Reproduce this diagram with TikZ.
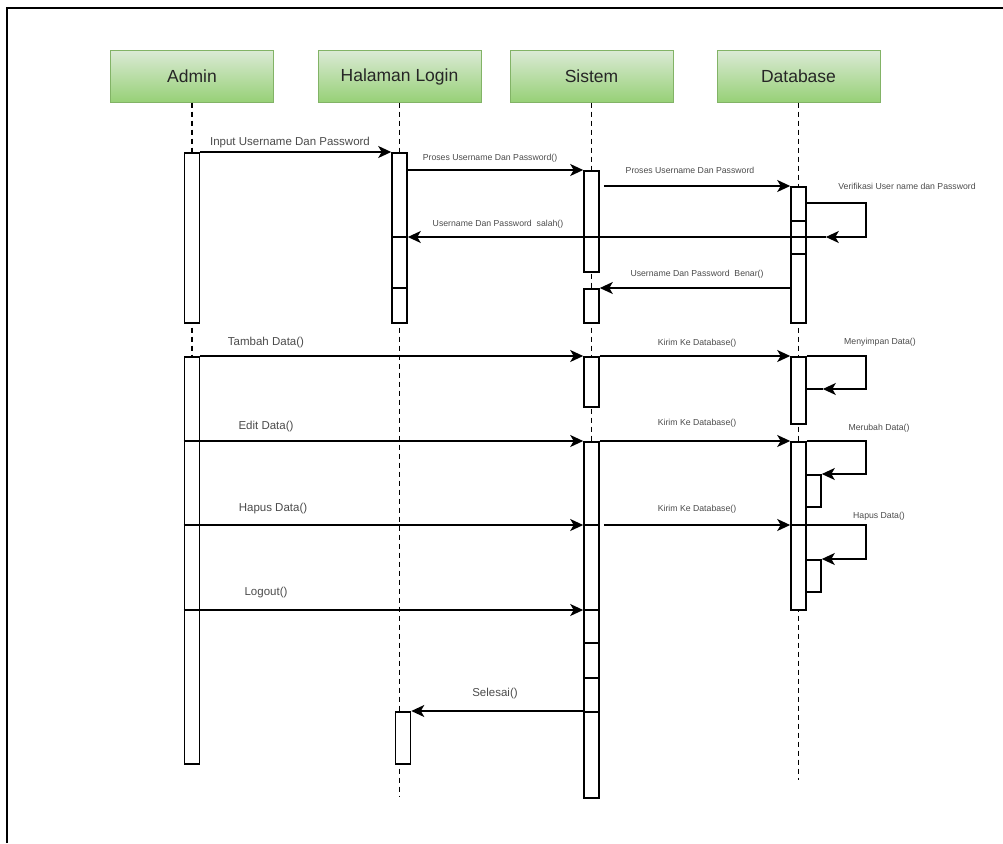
\documentclass[tikz,border=0pt]{standalone}
\usepackage{fontspec}
\setmainfont{Liberation Sans}
\usepackage{tikz}
\usetikzlibrary{arrows.meta, positioning, calc}
\usepackage{xcolor}
\definecolor{headfill}{RGB}{218,234,212}
\definecolor{headshade}{RGB}{151,208,119}
\definecolor{headline}{RGB}{130,179,102}
\definecolor{labelgray}{RGB}{75,75,75}

\begin{document}
\begin{tikzpicture}[x=1pt, y=-1pt,
  head/.style={draw=headline, line width=1pt, top color=headfill, bottom color=headshade,
    minimum width=163pt, minimum height=51pt, text=black!85, font=\fontsize{17.5}{20}\selectfont},
  bar/.style={draw, line width=1.6pt, fill=white, minimum width=15pt, inner sep=0pt, anchor=north},
  life/.style={line width=1.6pt, dash pattern=on 5pt off 4pt},
  msg/.style={line width=1.7pt, -{Stealth[length=13pt, width=12pt, inset=3.5pt]}},
  midlbl/.style={text=labelgray, inner sep=0pt, font=\fontsize{11.5}{13}\selectfont},
  smalllbl/.style={text=labelgray, inner sep=0pt, font=\fontsize{8.7}{10}\selectfont}]
  \useasboundingbox (0,0) rectangle (1003,843);
  \draw[line width=2.2pt] (7,843) -- (7,8) -- (1003,8);

  % lifeline heads
  \node[head] (admin) at (192,76.5) {Admin};
  \node[head] (login) at (399.5,76.5) {Halaman Login};
  \node[head] (sistem) at (591.5,76.5) {Sistem};
  \node[head] (db) at (798.5,76.5) {Database};

  \coordinate (adminfoot) at (192,763);
  \coordinate (loginfoot) at (399.5,797);
  \coordinate (sistemfoot) at (591.5,797);
  \coordinate (dbfoot) at (798.5,780);
  \draw[life] (admin.south) -- (adminfoot);
  \draw[life] (login.south) -- (loginfoot);
  \draw[life] (sistem.south) -- (sistemfoot);
  \draw[life] (db.south) -- (dbfoot);

  % activation bars
  \node[bar, minimum height=170pt] (a1) at (192,152) {};
  \node[bar, minimum height=407pt] (a2) at (192,356) {};
  \node[bar, minimum height=170pt] (l1) at (399.5,152) {};
  \node[bar, minimum height=52pt] (l2) at (403,711) {};
  \node[bar, minimum height=101pt] (s1) at (591.5,170) {};
  \node[bar, minimum height=34pt] (s2) at (591.5,288) {};
  \node[bar, minimum height=50pt] (s3) at (591.5,356) {};
  \node[bar, minimum height=356pt] (s4) at (591.5,441) {};
  \node[bar, minimum height=136pt] (d1) at (798.5,186) {};
  \node[bar, minimum height=67pt] (d2) at (798.5,356) {};
  \node[bar, minimum height=168pt] (d3) at (798.5,441) {};
  \node[bar, minimum height=32pt] (d3e) at (813.5,474) {};
  \node[bar, minimum height=32pt] (d3h) at (813.5,559) {};

  \coordinate (hapus) at (0,525);
  \coordinate (logout) at (0,610);
  \foreach \y in {237,288} \draw[line width=1.6pt] (l1.west |- 0,\y) -- (l1.east |- 0,\y);
  \foreach \y in {221,254} \draw[line width=1.6pt] (d1.west |- 0,\y) -- (d1.east |- 0,\y);
  \foreach \y in {525,610,643,678,712} \draw[line width=1.6pt] (s4.west |- 0,\y) -- (s4.east |- 0,\y);
  \draw[line width=1.6pt] (d3.west |- hapus) -- (d3.east |- hapus);

  % login
  \draw[msg] (a1.north east) -- (l1.north west);
  \node[midlbl] (t-input) at (290,143) {Input Username Dan Password};
  \draw[msg] (l1.east |- s1.north) -- (s1.north west);
  \node[smalllbl] (t-proses1) at (490,158) {Proses Username Dan Password()};
  \draw[msg] ($(s1.east |- d1.north)+(4,0)$) -- (d1.north west);
  \node[smalllbl] (t-proses2) at (690,170) {Proses Username Dan Password};
  \draw[msg] ($(d1.north east)+(0,17)$) -| ++(59,34) -- ++(-40,0) coordinate (vtip);
  \node[smalllbl] (t-verif) at (907,186) {Verifikasi User name dan Password};
  \draw[msg] (vtip) -- (l1.east |- vtip);
  \node[smalllbl] (t-salah) at (498,224) {Username Dan Password~~salah()};
  \draw[msg] (d1.west |- s2.north) -- (s2.north east);
  \node[smalllbl] (t-benar) at (697,274) {Username Dan Password~~Benar()};

  % tambah
  \draw[msg] (a2.north east) -- (s3.north west);
  \node[midlbl] (t-tambah) at (266,343) {Tambah Data()};
  \draw[msg] (s3.north east) -- (d2.north west);
  \node[smalllbl] (t-kirim1) at (697,343) {Kirim Ke Database()};
  \draw[msg] (d2.north east) -| ++(59,33) -- ++(-43,0) coordinate (savetip);
  \draw[line width=1.7pt] (d2.east |- savetip) -- (savetip);
  \node[smalllbl] (t-simpan) at (880,342) {Menyimpan Data()};

  % edit
  \draw[msg] (a2.west |- s4.north) -- (s4.north west);
  \node[midlbl] (t-edit) at (266,427) {Edit Data()};
  \draw[msg] (s4.north east) -- (d3.north west);
  \node[smalllbl] (t-kirim2) at (697,423) {Kirim Ke Database()};
  \draw[msg] (d3.north east) -| ($(d3e.north east)+(44,0)$) -- (d3e.north east);
  \node[smalllbl] (t-ubah) at (879,428) {Merubah Data()};

  % hapus
  \draw[msg] (a2.west |- hapus) -- (s4.west |- hapus);
  \node[midlbl] (t-hapus) at (273,509) {Hapus Data()};
  \draw[msg] ($(s4.east |- hapus)+(4,0)$) -- (d3.west |- hapus);
  \node[smalllbl] (t-kirim3) at (697,509) {Kirim Ke Database()};
  \draw[msg] (d3.east |- hapus) -| ($(d3h.north east)+(44,0)$) -- (d3h.north east);
  \node[smalllbl] (t-hapusdb) at (879,516) {Hapus Data()};

  % logout
  \draw[msg] (a2.west |- logout) -- (s4.west |- logout);
  \node[midlbl] (t-logout) at (266,593) {Logout()};
  \draw[msg] (s4.west |- l2.north) -- (l2.north east);
  \node[midlbl] (t-selesai) at (495,694) {Selesai()};
\end{tikzpicture}
\end{document}
